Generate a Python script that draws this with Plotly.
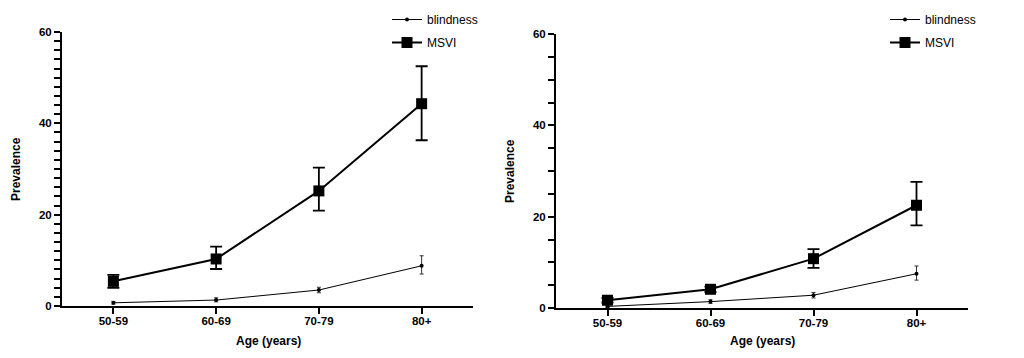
import plotly.graph_objects as go

categories = ["50-59", "60-69", "70-79", "80+"]

# Left panel
left_msvi = [5.4, 10.3, 25.2, 44.3]
left_msvi_plus = [1.4, 2.7, 5.1, 8.2]
left_msvi_minus = [1.4, 2.2, 4.3, 8.0]
left_blind = [0.7, 1.3, 3.5, 8.8]
left_blind_plus = [0.3, 0.5, 0.6, 2.2]
left_blind_minus = [0.3, 0.4, 0.6, 1.8]

# Right panel
right_msvi = [1.7, 4.1, 10.8, 22.5]
right_msvi_plus = [0.5, 0.6, 2.1, 5.1]
right_msvi_minus = [0.5, 0.6, 2.0, 4.4]
right_blind = [0.35, 1.4, 2.8, 7.5]
right_blind_plus = [0.2, 0.4, 0.6, 1.7]
right_blind_minus = [0.2, 0.4, 0.6, 1.4]

# y-axis ticks: labelled majors, unlabelled minor steps
major_ticks = [0, 20, 40, 60]
left_minor_step = 2
right_minor_step = 5

FONT = "Arial, Liberation Sans, Helvetica, sans-serif"

fig = go.Figure()

def add_pair(blind, bp, bm, msvi, mp, mm, xa, ya, leg):
    fig.add_trace(go.Scatter(
        x=categories, y=blind, name="blindness", mode="lines+markers",
        xaxis=xa, yaxis=ya, legend=leg, legendgroup=leg + "b",
        line=dict(color="black", width=1),
        marker=dict(color="black", size=4, symbol="circle"),
        error_y=dict(type="data", array=bp, arrayminus=bm, symmetric=False,
                     color="#333333", thickness=1, width=2),
    ))
    fig.add_trace(go.Scatter(
        x=categories, y=msvi, name="MSVI", mode="lines+markers",
        xaxis=xa, yaxis=ya, legend=leg, legendgroup=leg + "m",
        line=dict(color="black", width=2),
        marker=dict(color="black", size=11, symbol="square"),
        error_y=dict(type="data", array=mp, arrayminus=mm, symmetric=False,
                     color="black", thickness=1.8, width=6),
    ))

add_pair(left_blind, left_blind_plus, left_blind_minus,
         left_msvi, left_msvi_plus, left_msvi_minus, "x", "y", "legend")
add_pair(right_blind, right_blind_plus, right_blind_minus,
         right_msvi, right_msvi_plus, right_msvi_minus, "x2", "y2", "legend2")

# page body has an 8px default margin; the figure is sized/positioned to compensate
OFF = 8
W, H = 1024 - OFF, 358 - OFF

def px_x(v):
    return (v - OFF) / W

def px_y(v):
    return (H - (v - OFF)) / H

def xaxis(d0, d1, anchor):
    return dict(
        domain=[px_x(d0), px_x(d1)], anchor=anchor, range=[-0.5, 3.5],
        type="category", showgrid=False, zeroline=False, automargin=False,
        showline=True, linecolor="black", linewidth=2,
        ticks="outside", ticklen=6, tickwidth=2, tickcolor="black",
        ticklabelstandoff=-3,
        tickfont=dict(family=FONT, size=11.5, color="black", weight="bold"),
    )

def yaxis(top, bottom, anchor, step):
    vals = list(range(0, 61, step))
    texts = [str(v) if v in major_ticks else "" for v in vals]
    return dict(
        domain=[px_y(bottom), px_y(top)], anchor=anchor,
        range=[0, 60], tickmode="array", tickvals=vals, ticktext=texts,
        showgrid=False, zeroline=False, automargin=False,
        showline=True, linecolor="black", linewidth=2,
        ticks="outside", ticklen=6, tickwidth=2, tickcolor="black",
        tickfont=dict(family=FONT, size=11.5, color="black", weight="bold"),
    )

annotations = []
for cx, cy, text, ang in [(268, 341, "Age (years)", 0), (762, 341, "Age (years)", 0),
                          (16, 169, "Prevalence", -90), (510, 171, "Prevalence", -90)]:
    annotations.append(dict(
        x=px_x(cx), y=px_y(cy), xref="paper", yref="paper", text=text,
        showarrow=False, textangle=ang, xanchor="center", yanchor="middle",
        font=dict(family=FONT, size=12, color="black", weight="bold"),
    ))

legend_common = dict(
    yanchor="top", xanchor="left", bgcolor="rgba(0,0,0,0)",
    font=dict(family=FONT, size=12, color="black"),
    traceorder="grouped", tracegroupgap=4, itemwidth=30,
)

fig.update_layout(
    template="simple_white",
    width=W, height=H, margin=dict(l=0, r=0, t=0, b=0, autoexpand=False),
    paper_bgcolor="white", plot_bgcolor="white",
    xaxis=xaxis(62, 473, "y"),
    yaxis=yaxis(32, 306, "x", left_minor_step),
    xaxis2=xaxis(556, 968, "y2"),
    yaxis2=yaxis(34, 308, "x2", right_minor_step),
    legend=dict(x=px_x(387), y=px_y(5), **legend_common),
    legend2=dict(x=px_x(885), y=px_y(5), **legend_common),
    annotations=annotations,
    showlegend=True,
)

fig.write_html("out.html")
